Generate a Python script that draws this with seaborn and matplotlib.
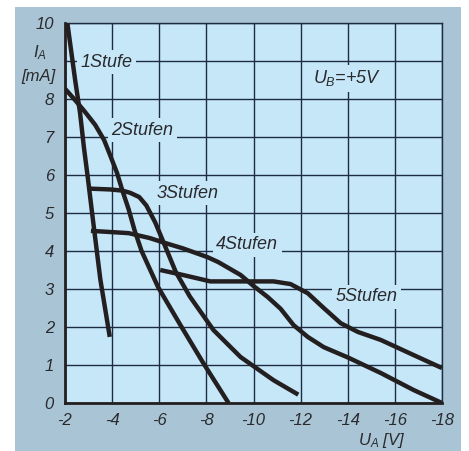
import numpy as np
import pandas as pd
import seaborn as sns
import matplotlib.pyplot as plt
from matplotlib.patches import Rectangle

# curves: U_A [V] vs I_A [mA]
stufe1_x = [-2.1, -2.43, -2.64, -2.8, -2.98, -3.15, -3.5, -3.9]
stufe1_y = [10.0, 8.5, 7.63, 6.74, 5.87, 5.0, 3.25, 1.74]

stufe2_x = [-2.0, -2.43, -2.85, -3.28, -3.66, -3.91, -4.21, -4.43, -4.7, -4.95, -5.25,
            -5.95, -6.9, -7.87, -8.94]
stufe2_y = [8.27, 7.97, 7.66, 7.32, 6.92, 6.53, 6.05, 5.6, 5.1, 4.55, 4.0,
            3.05, 2.05, 1.05, 0.0]

stufe3_x = [-3.1, -3.91, -4.43, -4.77, -5.15, -5.45, -5.62, -5.83, -6.1, -6.4, -6.7,
            -7.3, -8.3, -9.45, -10.85, -11.9]
stufe3_y = [5.64, 5.62, 5.59, 5.53, 5.42, 5.2, 5.0, 4.75, 4.35, 3.9, 3.45,
            2.8, 1.92, 1.21, 0.6, 0.22]

stufe4_x = [-3.1, -3.91, -4.7, -5.6, -6.2, -7.0, -8.04, -8.5, -9.45, -10.0, -10.6,
            -11.15, -11.7, -12.3, -12.98, -14.0, -15.4, -16.8, -18.0]
stufe4_y = [4.53, 4.5, 4.47, 4.34, 4.22, 4.07, 3.84, 3.71, 3.37, 3.08, 2.79,
            2.48, 2.05, 1.74, 1.47, 1.2, 0.79, 0.34, 0.0]

stufe5_x = [-6.04, -7.0, -8.17, -9.45, -10.85, -11.57, -12.3, -12.98, -13.7, -14.43,
            -15.4, -16.8, -18.0]
stufe5_y = [3.5, 3.37, 3.2, 3.2, 3.2, 3.13, 2.89, 2.5, 2.1, 1.87,
            1.66, 1.26, 0.92]

curve_names = ["1Stufe", "2Stufen", "3Stufen", "4Stufen", "5Stufen"]
label_x = [-3.75, -5.28, -7.2, -9.74, -14.8]
label_y = [8.97, 7.18, 5.52, 4.16, 2.79]

x_ticks = [-2, -4, -6, -8, -10, -12, -14, -16, -18]
y_ticks = list(range(0, 11))
y_ticklabels = ["0", "1", "2", "3", "4", "5", "6", "7", "8", "", "10"]

frames = []
for name, xs, ys in zip(curve_names,
                        [stufe1_x, stufe2_x, stufe3_x, stufe4_x, stufe5_x],
                        [stufe1_y, stufe2_y, stufe3_y, stufe4_y, stufe5_y]):
    frames.append(pd.DataFrame({"UA": xs, "IA": ys, "curve": name}))
df = pd.concat(frames)

bg = "#c6e7f8"
panel = "#a9c5d5"
grid_col = "#1e2b44"
ink = "#231f20"
txt = "#2a2a2e"

sns.set_style("white")
plt.rcParams["font.family"] = ["Liberation Sans", "DejaVu Sans"]
plt.rcParams["mathtext.fontset"] = "custom"
plt.rcParams["mathtext.it"] = "Liberation Sans:italic"
plt.rcParams["mathtext.rm"] = "Liberation Sans:italic"

fig = plt.figure(figsize=(4.69, 4.51), dpi=100)
fig.patches.append(Rectangle((15 / 469, 0), 446 / 469, 444 / 451,
                             transform=fig.transFigure, facecolor=panel,
                             edgecolor="none", zorder=-5))
ax = fig.add_axes([65 / 469, 48 / 451, 377 / 469, 380 / 451])
ax.set_facecolor(bg)

for name in curve_names:
    sub = df[df["curve"] == name]
    sns.lineplot(data=sub, x="UA", y="IA", sort=False, estimator=None,
                 color=ink, lw=3.2, ax=ax, zorder=4,
                 solid_capstyle="butt", solid_joinstyle="round")

ax.set_xlim(-2, -18)
ax.set_ylim(0, 10)
ax.set_xticks(x_ticks)
ax.set_xticklabels([str(t) for t in x_ticks], fontsize=12, style="italic", color=txt)
ax.set_yticks(y_ticks)
ax.set_yticklabels(y_ticklabels, fontsize=12, style="italic", color=txt)
ax.tick_params(axis="y", length=3, pad=5, color=grid_col)
ax.tick_params(axis="x", length=0, pad=7)
ax.grid(True, color=grid_col, lw=1.0, zorder=1)
ax.set_axisbelow(True)
ax.set_xlabel("")
ax.set_ylabel("")
for side in ["top", "right"]:
    ax.spines[side].set_color(grid_col)
    ax.spines[side].set_linewidth(1.0)
for side in ["left", "bottom"]:
    ax.spines[side].set_color(ink)
    ax.spines[side].set_linewidth(2.0)

for name, lx, ly in zip(curve_names, label_x, label_y):
    ax.text(lx, ly, name, fontsize=13, style="italic", color=txt,
            ha="center", va="center", zorder=3,
            bbox=dict(facecolor=bg, edgecolor="none", pad=2.5))

ax.text(-13.96, 8.55, r"$U_B$=+5V", fontsize=13, style="italic", color=txt,
        ha="center", va="center", zorder=3,
        bbox=dict(facecolor=bg, edgecolor="none", pad=2.5))

fig.text(40 / 469, 1 - 53 / 451, r"$I_A$", fontsize=12, color=txt,
         ha="center", va="center")
fig.text(38 / 469, 1 - 76 / 451, "[mA]", fontsize=12, style="italic", color=txt,
         ha="center", va="center")
fig.text(382 / 469, 1 - 440 / 451, r"$U_A$ [V]", fontsize=12, style="italic",
         color=txt, ha="center", va="center")

fig.savefig("out.png", dpi=100)
